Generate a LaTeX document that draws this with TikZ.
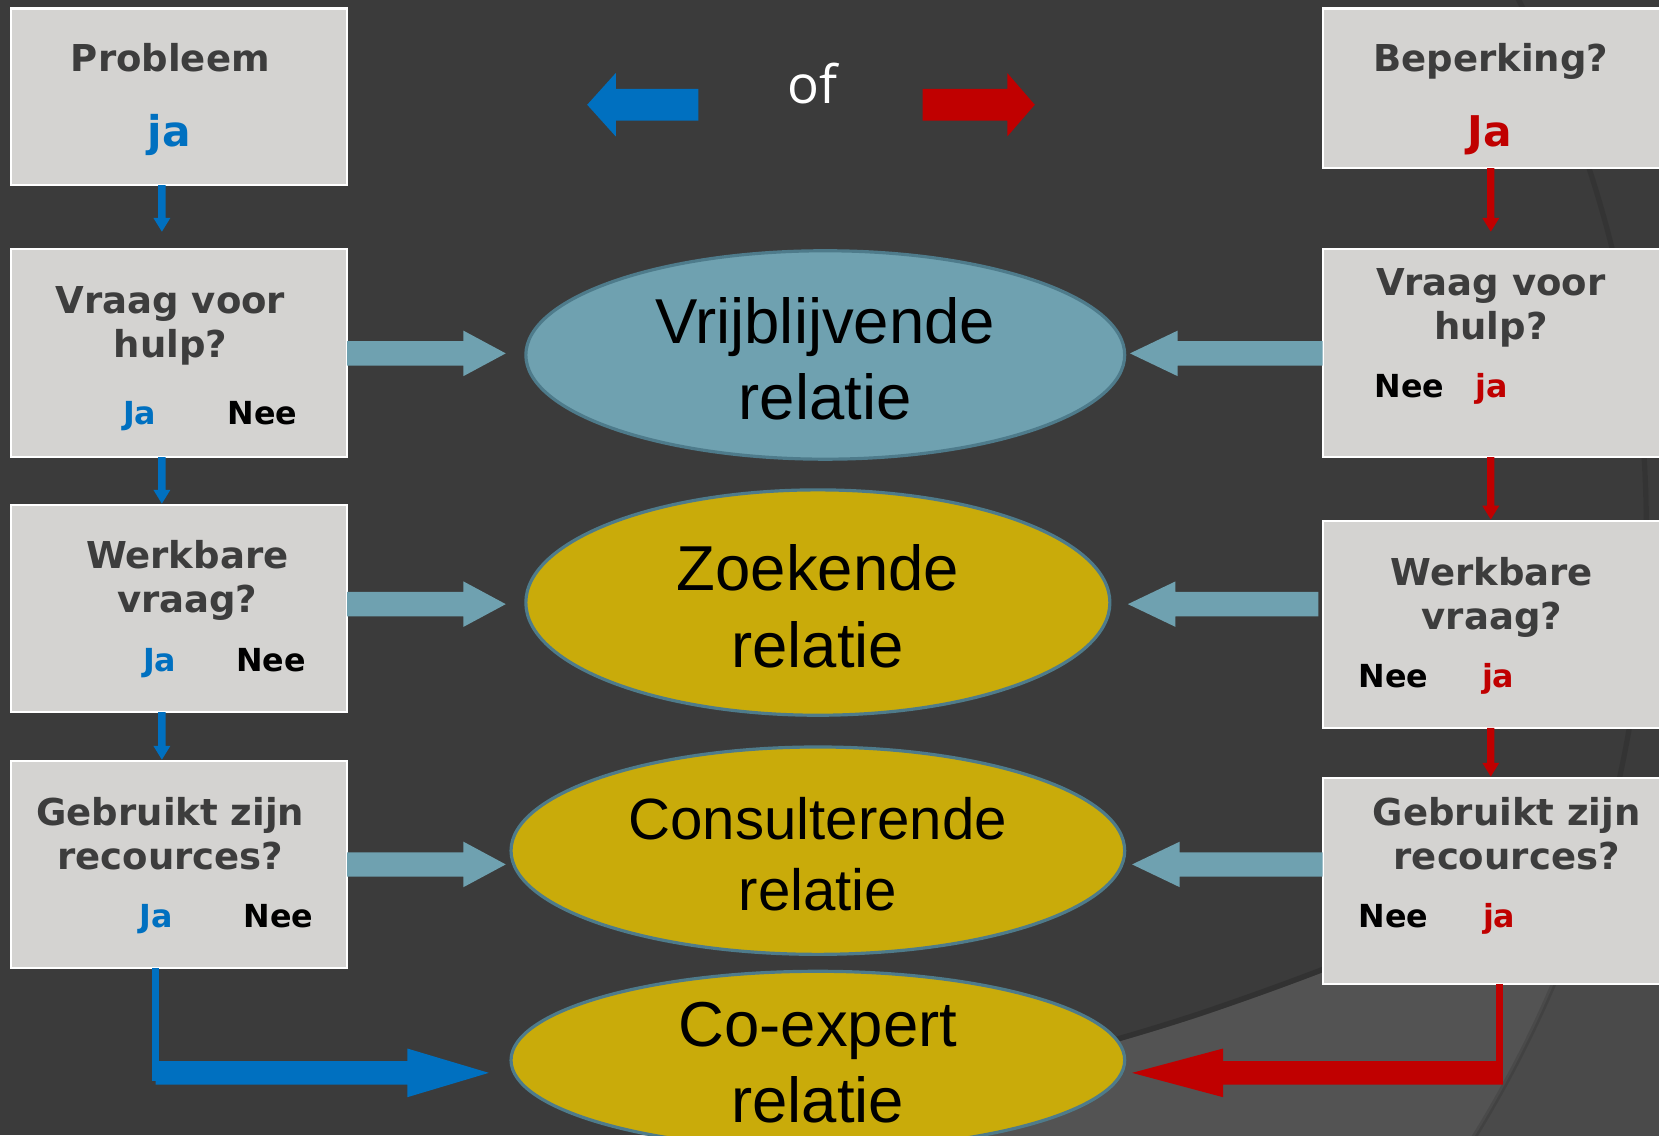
\documentclass[tikz,border=0pt]{standalone}
\usepackage{fontspec}
\setmainfont{Liberation Sans}
\newfontfamily\boxfont{DejaVu Sans}
\newfontfamily\offont{Open Sans}
\usetikzlibrary{calc,shapes.geometric}
\definecolor{bg}{HTML}{3B3B3B}
\definecolor{bgl}{HTML}{535353}
\definecolor{bgm}{HTML}{4A4A4A}
\definecolor{boxfill}{HTML}{D4D3D1}
\definecolor{hdr}{HTML}{3D3D3D}
\definecolor{myblue}{HTML}{0070C0}
\definecolor{myred}{HTML}{C00000}
\definecolor{tealc}{HTML}{6FA1B0}
\definecolor{tealb}{HTML}{4E7B8B}
\definecolor{goldc}{HTML}{C9AB0A}
% horizontal block arrow: #1 start, #2 tip, #3 shaft width, #4 head width, #5 head length, #6 colour
\newcommand{\harrow}[6]{%
  \fill[#6] let \p1=(#1), \p2=(#2), \n1={ifthenelse(\x2>\x1,1,-1)} in
    (\x1,{\y2+#3/2}) -- ({\x2-(\n1)*#5},{\y2+#3/2}) -- ({\x2-(\n1)*#5},{\y2+#4/2}) -- (\x2,\y2)
    -- ({\x2-(\n1)*#5},{\y2-#4/2}) -- ({\x2-(\n1)*#5},{\y2-#3/2}) -- (\x1,{\y2-#3/2}) -- cycle;}
% vertical block arrow
\newcommand{\varrow}[6]{%
  \fill[#6] let \p1=(#1), \p2=(#2), \n1={ifthenelse(\y2>\y1,1,-1)} in
    ({\x2+#3/2},\y1) -- ({\x2+#3/2},{\y2-(\n1)*#5}) -- ({\x2+#4/2},{\y2-(\n1)*#5}) -- (\x2,\y2)
    -- ({\x2-#4/2},{\y2-(\n1)*#5}) -- ({\x2-#3/2},{\y2-(\n1)*#5}) -- ({\x2-#3/2},\y1) -- cycle;}
\begin{document}
\begin{tikzpicture}[x=1pt,y=-1pt,
  qbox/.style={draw=white, line width=2pt, fill=boxfill, inner sep=0pt, outer sep=0pt},
  hd/.style={font=\boxfont\bfseries\fontsize{35}{42}\selectfont, text=hdr, anchor=base, inner sep=0pt},
  yn/.style={font=\boxfont\bfseries\fontsize{30}{36}\selectfont, anchor=base, inner sep=0pt},
  bigyn/.style={font=\boxfont\bfseries\fontsize{40}{48}\selectfont, anchor=base, inner sep=0pt},
  ell/.style={ellipse, draw=tealb, line width=3pt, inner sep=0pt},
  etx/.style={font=\fontsize{60}{72}\selectfont, align=center, inner sep=0pt, text=black}]
\useasboundingbox (0,0) rectangle (1568,1073);
\begin{scope}
\clip (0,0) rectangle (1568,1073);
% background
\fill[bg] (0,0) rectangle (1568,1073);
\fill[bgm] (600,1080) .. controls (850,1040) and (1000,1005) .. (1134,961)
  .. controls (1300,905) and (1450,840) .. (1580,760) -- (1580,1080) -- cycle;
\begin{scope}
  \clip (600,1080) .. controls (850,1040) and (1000,1005) .. (1134,961)
    .. controls (1300,905) and (1450,840) .. (1580,760) -- (1580,1080) -- cycle;
  \fill[bgl] (461,500) circle (1095pt);
\end{scope}
\draw[line width=5pt, black, opacity=0.1] (461,500) circle (1095pt);
\draw[line width=5pt, black, opacity=0.15] (600,1077) .. controls (850,1037) and (1000,1002) .. (1134,958)
  .. controls (1300,902) and (1450,837) .. (1580,757);

% ellipses
\node[ell, fill=tealc, minimum width=566pt, minimum height=197pt] (E1) at (780,335.5) {};
\node[ell, fill=goldc, minimum width=552pt, minimum height=213pt] (E2) at (773,569.5) {};
\node[ell, fill=goldc, minimum width=580pt, minimum height=196pt] (E3) at (773,804) {};
\node[ell, fill=goldc, minimum width=580pt, minimum height=168pt] (E4) at (773,1002) {};
\node[etx] (E1t) at (780,339) {Vrijblijvende\\relatie};
\node[etx] (E2t) at (773,573) {Zoekende\\relatie};
\node[etx, font=\fontsize{55}{67}\selectfont] (E3t) at (773,807) {Consulterende\\relatie};
\node[etx] (E4t) at (773,1004) {Co-expert\\relatie};

% boxes left
\node[qbox, minimum width=318pt, minimum height=167pt] (L1) at (169,91.5) {};
\node[qbox, minimum width=318pt, minimum height=197pt] (L2) at (169,333.5) {};
\node[qbox, minimum width=318pt, minimum height=196pt] (L3) at (169,575) {};
\node[qbox, minimum width=318pt, minimum height=196pt] (L4) at (169,817) {};
% boxes right
\node[qbox, minimum width=320pt, minimum height=151pt] (R1) at (1410,83.5) {};
\node[qbox, minimum width=320pt, minimum height=197pt] (R2) at (1410,333.5) {};
\node[qbox, minimum width=320pt, minimum height=196pt] (R3) at (1410,590) {};
\node[qbox, minimum width=320pt, minimum height=195pt] (R4) at (1410,832.5) {};

% texts left
\node[hd] (l1a) at (161,68) {Probleem};
\node[bigyn, text=myblue] (l1b) at (160,138) {ja};
\node[hd] (l2a) at (161,296) {Vraag voor};
\node[hd] (l2b) at (161,338) {hulp?};
\node[yn, text=myblue] (l2c) at (132,401) {Ja};
\node[yn, text=black] (l2d) at (248,401) {Nee};
\node[hd] (l3a) at (177,537) {Werkbare};
\node[hd] (l3b) at (177,579) {vraag?};
\node[yn, text=myblue] (l3c) at (151,635) {Ja};
\node[yn, text=black] (l3d) at (256,635) {Nee};
\node[hd] (l4a) at (161,780) {Gebruikt zijn};
\node[hd] (l4b) at (161,822) {recources?};
\node[yn, text=myblue] (l4c) at (148,877) {Ja};
\node[yn, text=black] (l4d) at (263,877) {Nee};
% texts right
\node[hd] (r1a) at (1409,68) {Beperking?};
\node[bigyn, text=myred] (r1b) at (1408,138) {Ja};
\node[hd] (r2a) at (1409,279) {Vraag voor};
\node[hd] (r2b) at (1409,321) {hulp?};
\node[yn, text=black] (r2c) at (1332,376) {Nee};
\node[yn, text=myred] (r2d) at (1410,376) {ja};
\node[hd] (r3a) at (1410,553) {Werkbare};
\node[hd] (r3b) at (1410,595) {vraag?};
\node[yn, text=black] (r3c) at (1317,650) {Nee};
\node[yn, text=myred] (r3d) at (1416,650) {ja};
\node[hd] (r4a) at (1424,780) {Gebruikt zijn};
\node[hd] (r4b) at (1424,822) {recources?};
\node[yn, text=black] (r4c) at (1317,877) {Nee};
\node[yn, text=myred] (r4d) at (1417,877) {ja};

% top legend
\node[font=\offont\fontsize{50}{60}\selectfont, text=white, anchor=base, inner sep=0pt] (of) at (768,98) {of};
\coordinate (ba0) at (660,99); \coordinate (ba1) at (555,99);
\coordinate (ra0) at (872,99); \coordinate (ra1) at (978,99);
\harrow{ba0}{ba1}{30pt}{60pt}{27pt}{myblue}
\harrow{ra0}{ra1}{30pt}{60pt}{26pt}{myred}

% small arrows between boxes
\varrow{$(L1.south)+(-16,0)$}{$(L2.north)+(-16,-16)$}{7pt}{16pt}{13pt}{myblue}
\varrow{$(L2.south)+(-16,0)$}{$(L3.north)+(-16,-1)$}{7pt}{16pt}{13pt}{myblue}
\varrow{$(L3.south)+(-16,0)$}{$(L4.north)+(-16,-1)$}{7pt}{16pt}{13pt}{myblue}
\varrow{$(R1.south)+(-1,0)$}{$(R2.north)+(-1,-16)$}{7pt}{16pt}{13pt}{myred}
\varrow{$(R2.south)+(-1,0)$}{$(R3.north)+(-1,-1)$}{7pt}{16pt}{13pt}{myred}
\varrow{$(R3.south)+(-1,0)$}{$(R4.north)+(-1,-1)$}{7pt}{16pt}{13pt}{myred}

% teal arrows
\coordinate (t1) at (478,334); \coordinate (t2) at (478,571); \coordinate (t3) at (478,817);
\coordinate (u1) at (1068,334); \coordinate (u2) at (1066,571); \coordinate (u3) at (1070,817);
\harrow{L2.east}{t1}{23pt}{43pt}{40pt}{tealc}
\harrow{L3.east}{t2}{23pt}{43pt}{40pt}{tealc}
\harrow{L4.east}{t3}{23pt}{43pt}{40pt}{tealc}
\harrow{R2.west}{u1}{23pt}{43pt}{45pt}{tealc}
\harrow{$(R3.west)+(-4,0)$}{u2}{23pt}{43pt}{45pt}{tealc}
\harrow{R4.west}{u3}{23pt}{43pt}{45pt}{tealc}

% bottom L arrows
\coordinate (bc) at (147,1014); \coordinate (bt) at (462,1014);
\coordinate (rc) at (1417,1014); \coordinate (rt) at (1070,1014);
\draw[myblue, line width=7pt] (L4.south -| bc) -- ($(bc)+(0,8)$);
\harrow{bc}{bt}{22pt}{46pt}{77pt}{myblue}
\draw[myred, line width=7pt] (R4.south -| rc) -- ($(rc)+(0,-8)$);
\harrow{$(rc)+(3.5,0)$}{rt}{22pt}{46pt}{86pt}{myred}
\end{scope}
\end{tikzpicture}
\end{document}
